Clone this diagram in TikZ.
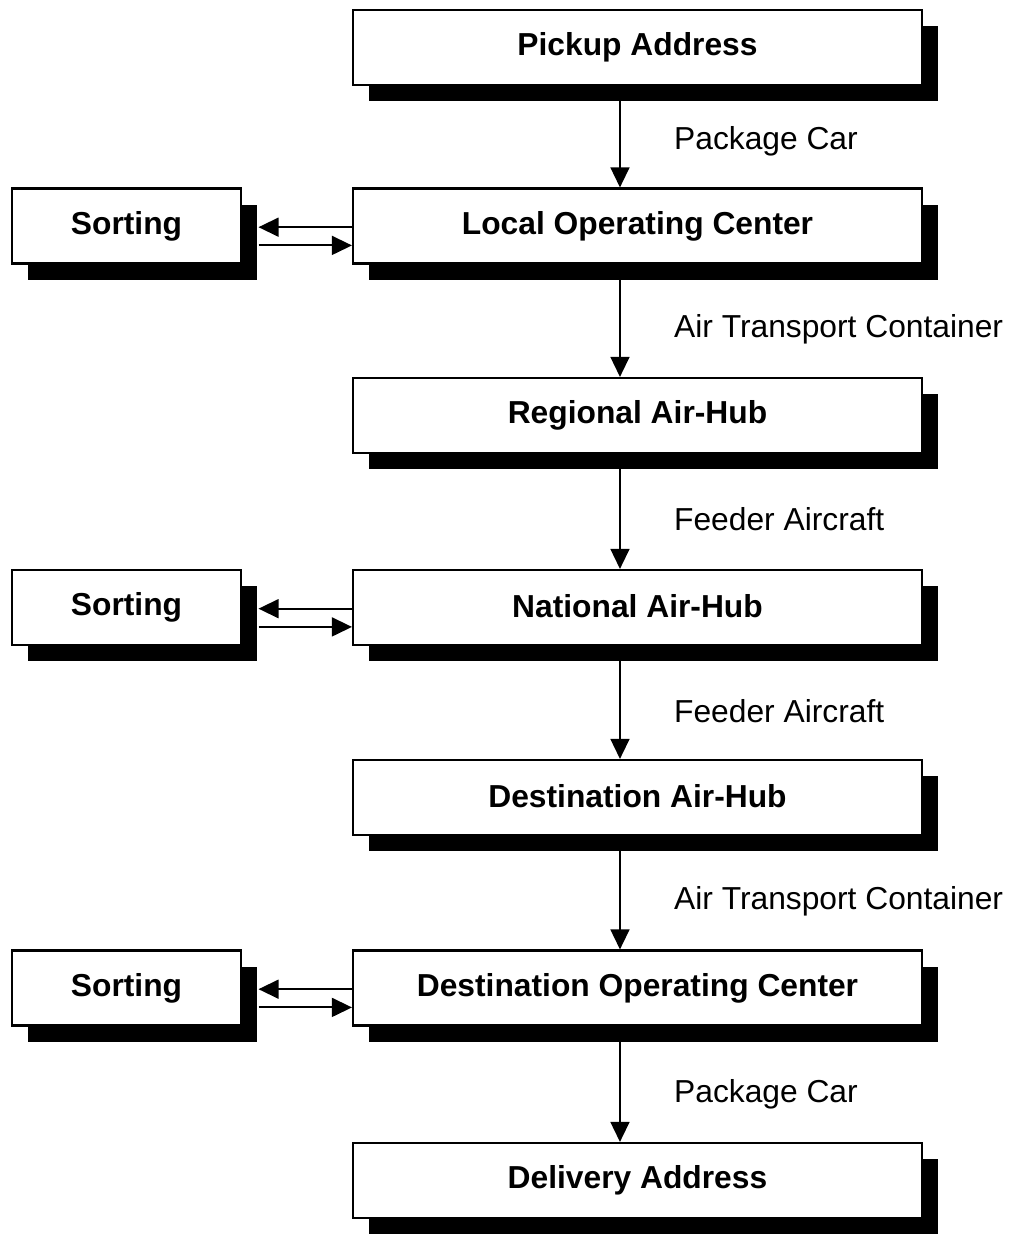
\documentclass[tikz,border=0pt]{standalone}
\usepackage{fontspec}
\setmainfont{Liberation Sans}
\usetikzlibrary{arrows.meta,shadows}
\begin{document}
\begin{tikzpicture}[x=0.85pt,y=-0.85pt,
  box/.style={draw, line width=1.8pt, fill=white, minimum height=63.75pt,
    font=\fontsize{27}{31}\selectfont\bfseries,
    drop shadow={shadow xshift=13.6pt, shadow yshift=-13.6pt, fill=black, opacity=1}},
  mainbox/.style={box, minimum width=483.6pt},
  sortbox/.style={box, minimum width=194.6pt},
  lbl/.style={anchor=west, font=\fontsize{27}{31}\selectfont},
  arr/.style={line width=1.7pt, -{Triangle[length=17pt,width=16pt]}}]
\useasboundingbox (0,0) rectangle (1013,1234);
\node[mainbox] (pa) at (637.5,47.5) {\raisebox{3pt}{Pickup Address}};
\node[mainbox] (loc) at (637.5,226) {\raisebox{3pt}{Local Operating Center}};
\node[mainbox] (rah) at (637.5,415.5) {\raisebox{3pt}{Regional Air-Hub}};
\node[mainbox] (nah) at (637.5,607.5) {\raisebox{3pt}{National Air-Hub}};
\node[mainbox] (dah) at (637.5,797.5) {\raisebox{3pt}{Destination Air-Hub}};
\node[mainbox] (doc) at (637.5,988) {\raisebox{3pt}{Destination Operating Center}};
\node[mainbox] (da) at (637.5,1180.5) {\raisebox{3pt}{Delivery Address}};
\node[sortbox] (s1) at (126.5,226) {\raisebox{3pt}{Sorting}};
\node[sortbox] (s2) at (126.5,607.5) {\raisebox{3pt}{Sorting}};
\node[sortbox] (s3) at (126.5,988) {\raisebox{3pt}{Sorting}};
\foreach \a/\b in {pa/loc, loc/rah, rah/nah, nah/dah, dah/doc, doc/da}{
  \draw[arr] ([xshift=-14.9pt,yshift=-13pt]\a.south) -- ([xshift=-14.9pt]\b.north);
}
\foreach \m/\s in {loc/s1, nah/s2, doc/s3}{
  \draw[arr] ([yshift=-1pt]\m.west) -- ([xshift=14pt,yshift=-1pt]\s.east);
  \draw[arr] ([xshift=14pt,yshift=-16.5pt]\s.east) -- ([yshift=-16.5pt]\m.west);
}
\node[lbl] (l1) at (670,141) {Package Car};
\node[lbl] (l2) at (670,329) {Air Transport Container};
\node[lbl] (l3) at (670,519) {Feeder Aircraft};
\node[lbl] (l4) at (670,711) {Feeder Aircraft};
\node[lbl] (l5) at (670,901) {Air Transport Container};
\node[lbl] (l6) at (670,1094) {Package Car};
\end{tikzpicture}
\end{document}
